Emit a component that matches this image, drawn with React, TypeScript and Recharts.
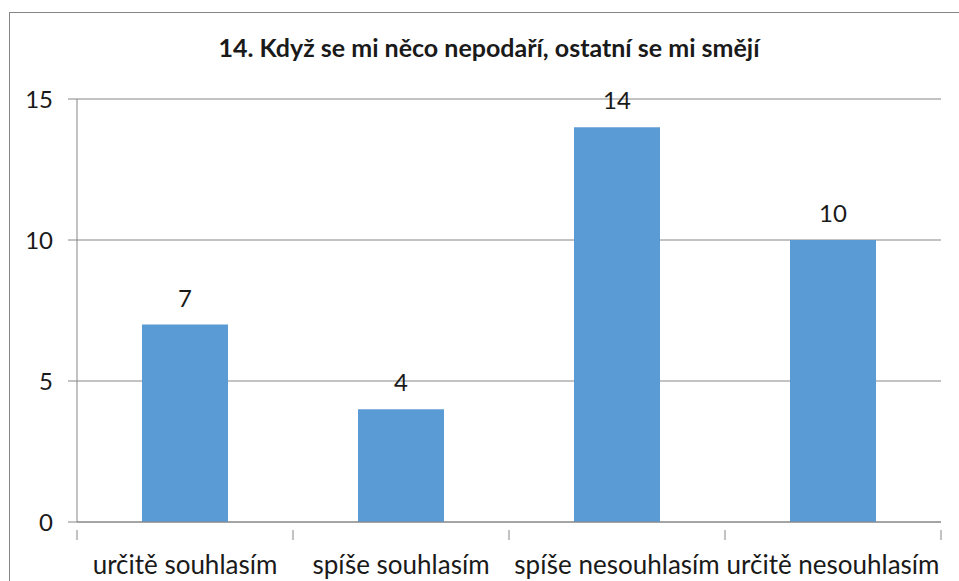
import React from 'react';
import { BarChart, Bar, XAxis, YAxis, CartesianGrid, LabelList } from 'recharts';

const categories = ['určitě souhlasím', 'spíše souhlasím', 'spíše nesouhlasím', 'určitě nesouhlasím'];
const counts = [7, 4, 14, 10];
const yTicks = [0, 5, 10, 15];
const title = '14. Když se mi něco nepodaří, ostatní se mi smějí';

const data = categories.map((c, i) => ({ name: c, value: counts[i] }));

const FONT = 'Lato, "Open Sans", sans-serif';

const XTick = (props: any) => {
  const { x, y, payload, index } = props;
  const half = payload && payload.offset ? payload.offset : 108;
  const last = index === categories.length - 1;
  return (
    <g>
      <line x1={x - half} y1={y} x2={x - half} y2={y + 10} stroke="#868686" />
      {last && <line x1={x + half} y1={y} x2={x + half} y2={y + 10} stroke="#868686" />}
      <text x={x} y={y + 44} textAnchor="middle" fontFamily={FONT} fontSize={26} fill="#1a1a1a">
        {payload.value}
      </text>
    </g>
  );
};

export default function App() {
  return (
    <div style={{ position: 'absolute', left: 0, top: 0, width: 959, height: 581, background: '#fff', overflow: 'hidden' }}>
      <div style={{ position: 'absolute', left: 9, top: 12, width: 980, height: 600, border: '1px solid #868686', boxSizing: 'border-box' }} />
      <div style={{ position: 'absolute', left: 0, top: 32, width: 978, textAlign: 'center', fontFamily: FONT, fontWeight: 700, fontSize: 25, color: '#1a1a1a', whiteSpace: 'nowrap' }}>
        {title}
      </div>
      <BarChart
        width={959}
        height={581}
        data={data}
        margin={{ top: 99, right: 18, bottom: 0, left: 0 }}
        barCategoryGap="30%"
        style={{ position: 'absolute', left: 0, top: 0 }}
      >
        <CartesianGrid vertical={false} stroke="#868686" />
        <XAxis
          dataKey="name"
          height={59}
          tickLine={false}
          axisLine={{ stroke: '#868686' }}
          tick={<XTick />}
          interval={0}
        />
        <YAxis
          width={77}
          domain={[0, 15]}
          ticks={yTicks}
          tickSize={9}
          tickMargin={15}
          tickLine={{ stroke: '#868686' }}
          axisLine={{ stroke: '#868686' }}
          tick={{ fontFamily: FONT, fontSize: 24, fill: '#1a1a1a' }}
        />
        <Bar dataKey="value" fill="#5B9BD5" barSize={86} isAnimationActive={false}>
          <LabelList dataKey="value" position="top" offset={18} style={{ fontFamily: FONT, fontSize: 24, fill: '#1a1a1a' }} />
        </Bar>
      </BarChart>
    </div>
  );
}
